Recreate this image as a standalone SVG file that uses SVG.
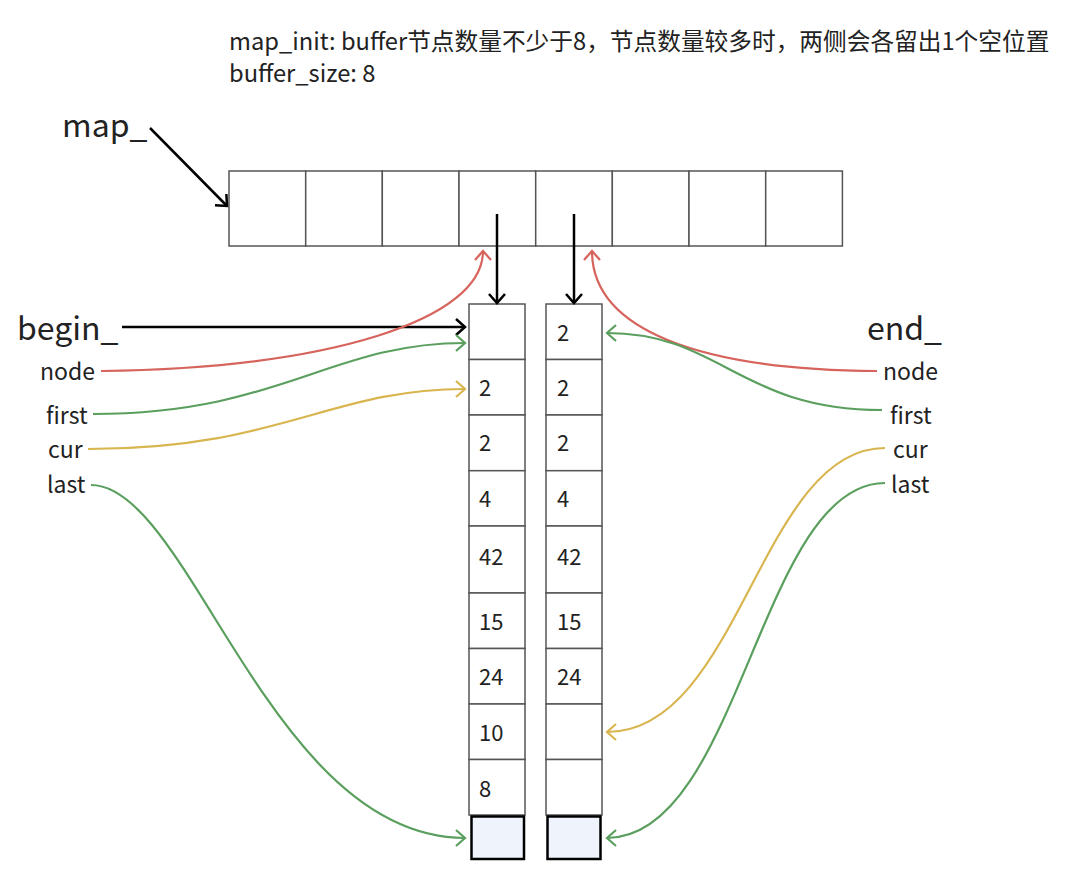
<svg xmlns="http://www.w3.org/2000/svg" width="1077" height="869" viewBox="0 0 1077 869">
<style>
text{font-family:"Noto Sans CJK SC","Noto Sans",sans-serif;fill:#222}
.title{font-size:23.7px}
.big{font-size:32px}
.lbl{font-size:23px}
.num{font-size:22px}
.cell{fill:#fff;stroke:#555;stroke-width:1.5}
.end{fill:#eef3fc;stroke:#000;stroke-width:2.5}
.blk{fill:none;stroke:#000;stroke-width:2.5}
.red{fill:none;stroke:#d6635c;stroke-width:2.2}
.grn{fill:none;stroke:#5a9f5e;stroke-width:2.2}
.yel{fill:none;stroke:#d8b54f;stroke-width:2.2}
</style>
<defs>
<marker id="mk" markerUnits="userSpaceOnUse" markerWidth="20" markerHeight="20" refX="12" refY="10" orient="auto" viewBox="0 0 20 20"><path d="M3,2 L12,10 L3,18" fill="none" stroke="#000" stroke-width="2.5"/></marker>
<marker id="mr" markerUnits="userSpaceOnUse" markerWidth="20" markerHeight="20" refX="12" refY="10" orient="auto" viewBox="0 0 20 20"><path d="M3,2 L12,10 L3,18" fill="none" stroke="#d6635c" stroke-width="2.2"/></marker>
<marker id="mg" markerUnits="userSpaceOnUse" markerWidth="20" markerHeight="20" refX="12" refY="10" orient="auto" viewBox="0 0 20 20"><path d="M3,2 L12,10 L3,18" fill="none" stroke="#5a9f5e" stroke-width="2.2"/></marker>
<marker id="my" markerUnits="userSpaceOnUse" markerWidth="20" markerHeight="20" refX="12" refY="10" orient="auto" viewBox="0 0 20 20"><path d="M3,2 L12,10 L3,18" fill="none" stroke="#d8b54f" stroke-width="2.2"/></marker>
</defs>
<rect width="1077" height="869" fill="#fff"/>
<g id="title">
<text class="title" x="229" y="50">map_init: buffer节点数量不少于8，节点数量较多时，两侧会各留出1个空位置</text>
<text class="title" x="229" y="82">buffer_size: 8</text>
</g>
<g id="map">
<rect class="cell" x="229" y="171" width="76.7" height="75"/>
<rect class="cell" x="305.7" y="171" width="76.7" height="75"/>
<rect class="cell" x="382.3" y="171" width="76.7" height="75"/>
<rect class="cell" x="459" y="171" width="76.7" height="75"/>
<rect class="cell" x="535.7" y="171" width="76.7" height="75"/>
<rect class="cell" x="612.3" y="171" width="76.7" height="75"/>
<rect class="cell" x="689" y="171" width="76.7" height="75"/>
<rect class="cell" x="765.7" y="171" width="76.7" height="75"/>
</g>
<g id="buffer-left">
<rect class="cell" x="469" y="304" width="56" height="55.5"/>
<rect class="cell" x="469" y="359.5" width="56" height="55.5"/>
<rect class="cell" x="469" y="415" width="56" height="55.7"/>
<rect class="cell" x="469" y="470.7" width="56" height="55.3"/>
<rect class="cell" x="469" y="526" width="56" height="67"/>
<rect class="cell" x="469" y="593" width="56" height="55.5"/>
<rect class="cell" x="469" y="648.5" width="56" height="55.5"/>
<rect class="cell" x="469" y="704" width="56" height="55.5"/>
<rect class="cell" x="469" y="759.5" width="56" height="55.5"/>
<rect class="end" x="471.5" y="816.5" width="52.5" height="42.5"/>
<text class="num" x="479" y="396">2</text>
<text class="num" x="479" y="451">2</text>
<text class="num" x="479" y="507">4</text>
<text class="num" x="479" y="565">42</text>
<text class="num" x="479" y="630">15</text>
<text class="num" x="479" y="685">24</text>
<text class="num" x="479" y="741">10</text>
<text class="num" x="479" y="797">8</text>
</g>
<g id="buffer-right">
<rect class="cell" x="546" y="304" width="56" height="55.5"/>
<rect class="cell" x="546" y="359.5" width="56" height="55.5"/>
<rect class="cell" x="546" y="415" width="56" height="55.7"/>
<rect class="cell" x="546" y="470.7" width="56" height="55.3"/>
<rect class="cell" x="546" y="526" width="56" height="67"/>
<rect class="cell" x="546" y="593" width="56" height="55.5"/>
<rect class="cell" x="546" y="648.5" width="56" height="55.5"/>
<rect class="cell" x="546" y="704" width="56" height="55.5"/>
<rect class="cell" x="546" y="759.5" width="56" height="55.5"/>
<rect class="end" x="547.5" y="816.5" width="53" height="42.5"/>
<text class="num" x="557" y="341">2</text>
<text class="num" x="557" y="396">2</text>
<text class="num" x="557" y="451">2</text>
<text class="num" x="557" y="507">4</text>
<text class="num" x="557" y="565">42</text>
<text class="num" x="557" y="630">15</text>
<text class="num" x="557" y="685">24</text>
</g>
<g id="labels-left">
<text class="big" x="62" y="137">map_</text>
<text class="big" x="17" y="340">begin_</text>
<text class="lbl" x="40" y="380">node</text>
<text class="lbl" x="46" y="424">first</text>
<text class="lbl" x="48" y="458">cur</text>
<text class="lbl" x="47" y="493">last</text>
</g>
<g id="labels-right">
<text class="big" x="867" y="340">end_</text>
<text class="lbl" x="883" y="380">node</text>
<text class="lbl" x="890" y="424">first</text>
<text class="lbl" x="893" y="458">cur</text>
<text class="lbl" x="891" y="493">last</text>
</g>
<g id="connectors">
<path class="blk" d="M150,128 L227,206" marker-end="url(#mk)"/>
<path class="blk" d="M497,214 L497,303" marker-end="url(#mk)"/>
<path class="blk" d="M574,214 L574,303" marker-end="url(#mk)"/>
<path class="blk" d="M122,327 L465,327" marker-end="url(#mk)"/>
<path class="red" d="M101,371 C330,368 483,320 483,251" marker-end="url(#mr)"/>
<path class="red" d="M877,371 C700,370 592,330 592,251" marker-end="url(#mr)"/>
<path class="grn" d="M93,414 C280,414 330,343 465,343" marker-end="url(#mg)"/>
<path class="yel" d="M88,449 C280,449 330,389 465,389" marker-end="url(#my)"/>
<path class="grn" d="M91,485 C190,485 270,838 465,838" marker-end="url(#mg)"/>
<path class="grn" d="M882,410 C740,410 720,333 607,333" marker-end="url(#mg)"/>
<path class="yel" d="M885,448 C760,448 740,732 607,732" marker-end="url(#my)"/>
<path class="grn" d="M885,483 C760,483 740,838 607,838" marker-end="url(#mg)"/>
</g>
</svg>
